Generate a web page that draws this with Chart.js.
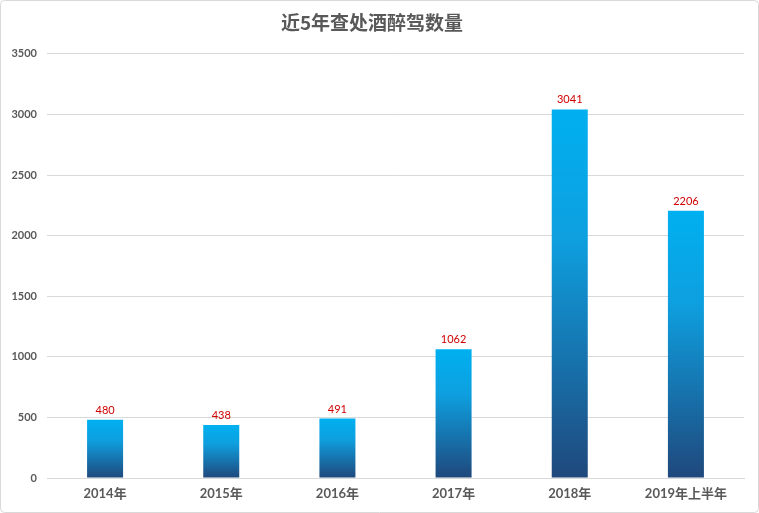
<!DOCTYPE html>
<html>
<head>
<meta charset="utf-8">
<script src="https://cdn.jsdelivr.net/npm/chart.js@4/dist/chart.umd.min.js"></script>
<style>
html,body{margin:0;padding:0;background:#fff;}
#wrap{width:759px;height:513px;position:relative;}
</style>
</head>
<body>
<div id="wrap"><canvas id="c" width="759" height="513"></canvas></div>
<script>
const titleText = '近5年查处酒醉驾数量';
const categories = ['2014年','2015年','2016年','2017年','2018年','2019年上半年'];
const values = [480, 438, 491, 1062, 3041, 2206];
const yMax = 3500;
const yStep = 500;

const fontNum = 'Lato, "Noto Sans CJK SC", sans-serif';

const borderPlugin = {
  id: 'border',
  beforeDraw(chart) {
    const c = chart.ctx;
    c.save();
    c.fillStyle = '#fff';
    c.fillRect(0,0,chart.width,chart.height);
    c.strokeStyle = '#D9D9D9';
    c.lineWidth = 1;
    c.beginPath();
    c.roundRect(0.5, 0.5, chart.width-1, chart.height-1, 4);
    c.stroke();
    c.restore();
  }
};

const labelPlugin = {
  id: 'valueLabels',
  afterDatasetsDraw(chart) {
    const c = chart.ctx;
    const meta = chart.getDatasetMeta(0);
    c.save();
    c.font = '11px ' + fontNum;
    c.fillStyle = '#D00000';
    c.textAlign = 'center';
    c.textBaseline = 'bottom';
    meta.data.forEach((el, i) => {
      c.fillText(String(values[i]), el.x, el.y - 4);
    });
    c.restore();
  }
};

new Chart(document.getElementById('c'), {
  type: 'bar',
  data: {
    labels: categories,
    datasets: [{
      data: values,
      backgroundColor(ctx) {
        const chart = ctx.chart;
        if (!chart.chartArea) return '#00B0F0';
        const ys = chart.scales.y;
        const top = ys.getPixelForValue(ctx.raw);
        const bottom = ys.getPixelForValue(0);
        const g = chart.ctx.createLinearGradient(0, top, 0, bottom);
        g.addColorStop(0, '#00B0F0');
        g.addColorStop(0.35, '#0E9FDF');
        g.addColorStop(1, '#1F487C');
        return g;
      },
      borderWidth: 0,
      barPercentage: 0.31,
      categoryPercentage: 1
    }]
  },
  options: {
    responsive: false,
    animation: false,
    layout: { padding: { left: 0, right: 15, top: 0, bottom: 0 } },
    plugins: {
      legend: { display: false },
      tooltip: { enabled: false },
      title: {
        display: true,
        text: titleText,
        color: '#595959',
        font: { family: '"Noto Sans CJK SC", sans-serif', size: 19, weight: 'bold' },
        padding: { top: 11, bottom: 20 }
      }
    },
    scales: {
      x: {
        grid: { display: false, drawTicks: false },
        border: { display: true, color: '#D9D9D9' },
        ticks: {
          color: '#595959',
          font: { family: fontNum, size: 13, weight: 'bold' },
          padding: 8,
          maxRotation: 0
        },
        afterFit(s) { s.height = 35; }
      },
      y: {
        min: 0, max: yMax,
        grid: { color: '#D9D9D9', drawTicks: false },
        border: { display: false },
        ticks: {
          stepSize: yStep,
          color: '#595959',
          font: { family: fontNum, size: 11, weight: 'bold' },
          padding: 10,
          callback: (v) => String(v)
        },
        afterFit(s) { s.width = 47; }
      }
    }
  },
  plugins: [borderPlugin, labelPlugin]
});
</script>
</body>
</html>
